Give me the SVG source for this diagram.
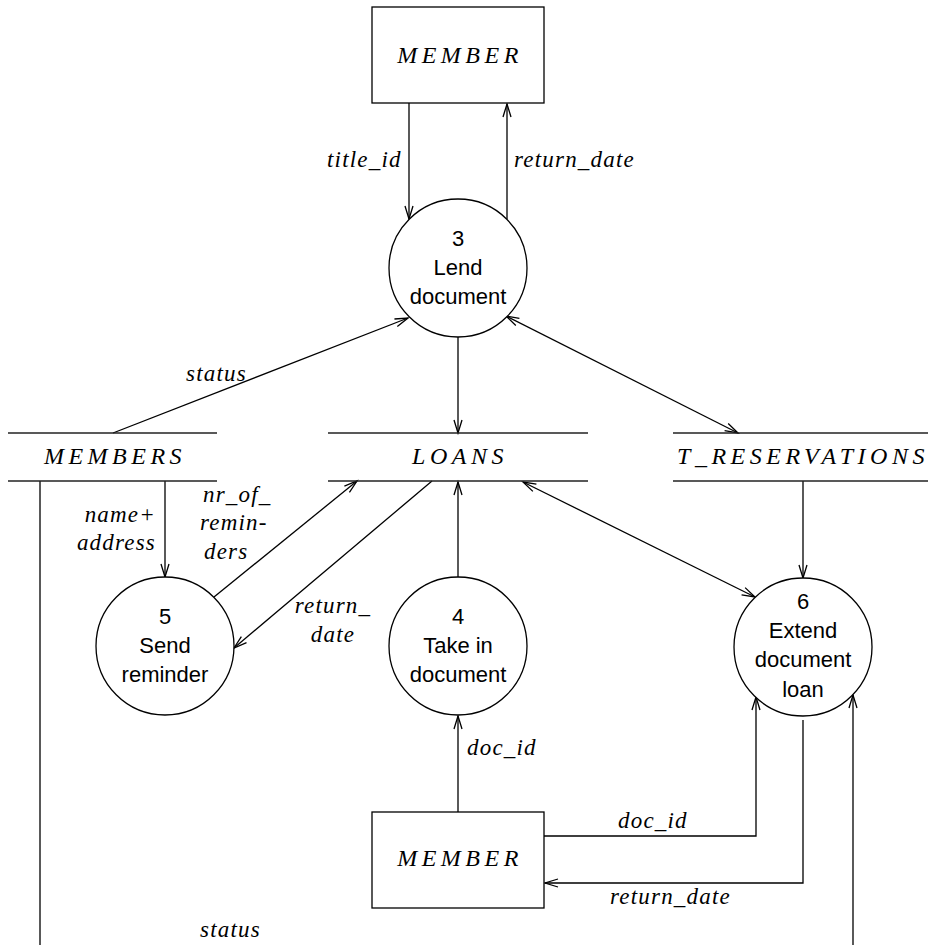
<svg xmlns="http://www.w3.org/2000/svg" width="928" height="945" viewBox="0 0 928 945">
  <style>
    .ln { stroke: #000; stroke-width: 1.3; fill: none; }
    .store { stroke: #222; stroke-width: 1.5; fill: none; }
    .box { stroke: #000; stroke-width: 1.3; fill: #fff; }
    .proc { stroke: #000; stroke-width: 1.3; fill: #fff; }
    .ptxt { font-family: "Liberation Sans", Arial, sans-serif; font-size: 22px; fill: #000; text-anchor: middle; }
    .name { font-family: "Liberation Serif", "Times New Roman", serif; font-style: italic; font-size: 24px; letter-spacing: 4.5px; fill: #000; text-anchor: middle; }
    .lbl { font-family: "Liberation Serif", "Times New Roman", serif; font-style: italic; font-size: 23px; letter-spacing: 1.2px; fill: #000; }
    .r { text-anchor: end; }
    .m { text-anchor: middle; }
  </style>
  <defs>
    <marker id="arr" markerUnits="userSpaceOnUse" orient="auto-start-reverse" refX="0" refY="0" markerWidth="30" markerHeight="30" viewBox="-15 -15 30 30" overflow="visible">
      <path d="M-13,-4 L0,0 L-13,4" fill="none" stroke="#000" stroke-width="1.3"/>
    </marker>
  </defs>

  <!-- connectors -->
  <g id="connectors">
    <line class="ln" x1="409" y1="103" x2="409" y2="219" marker-end="url(#arr)"/>
    <line class="ln" x1="507" y1="219" x2="507" y2="104" marker-end="url(#arr)"/>
    <line class="ln" x1="113" y1="433" x2="408" y2="318" marker-end="url(#arr)"/>
    <line class="ln" x1="506" y1="316" x2="738" y2="433" marker-start="url(#arr)" marker-end="url(#arr)"/>
    <line class="ln" x1="458" y1="337" x2="458" y2="433" marker-end="url(#arr)"/>
    <line class="ln" x1="165" y1="481" x2="165" y2="577" marker-end="url(#arr)"/>
    <line class="ln" x1="214" y1="597" x2="357" y2="481" marker-end="url(#arr)"/>
    <line class="ln" x1="432" y1="481" x2="234" y2="648" marker-end="url(#arr)"/>
    <line class="ln" x1="458" y1="577" x2="458" y2="482" marker-end="url(#arr)"/>
    <line class="ln" x1="523" y1="482" x2="755" y2="597" marker-start="url(#arr)" marker-end="url(#arr)"/>
    <line class="ln" x1="803" y1="481" x2="803" y2="578" marker-end="url(#arr)"/>
    <line class="ln" x1="458" y1="812" x2="458" y2="716" marker-end="url(#arr)"/>
    <polyline class="ln" points="544,836 756,836 756,697" marker-end="url(#arr)"/>
    <polyline class="ln" points="803,720 803,883 545,883" marker-end="url(#arr)"/>
    <line class="ln" x1="853" y1="945" x2="853" y2="695" marker-end="url(#arr)"/>
    <line class="store" x1="40" y1="481" x2="40" y2="945"/>

    <text class="lbl" x="327" y="167">title_id</text>
    <text class="lbl" x="514" y="167">return_date</text>
    <text class="lbl" x="186" y="381">status</text>
    <text class="lbl r" x="156" y="522">name+</text>
    <text class="lbl r" x="156" y="550">address</text>
    <text class="lbl" x="203" y="502">nr_of_</text>
    <text class="lbl" x="200" y="530">remin-</text>
    <text class="lbl" x="204" y="559">ders</text>
    <text class="lbl m" x="333" y="613">return_</text>
    <text class="lbl m" x="333" y="642">date</text>
    <text class="lbl" x="467" y="755">doc_id</text>
    <text class="lbl" x="618" y="828">doc_id</text>
    <text class="lbl" x="610" y="904">return_date</text>
    <text class="lbl" x="200" y="937">status</text>
  </g>

  <!-- external entities -->
  <g id="member-top">
    <rect class="box" x="372" y="7" width="172" height="96"/>
    <text class="name" x="460" y="63">MEMBER</text>
  </g>
  <g id="member-bottom">
    <rect class="box" x="372" y="812" width="172" height="96"/>
    <text class="name" x="460" y="866">MEMBER</text>
  </g>

  <!-- data stores -->
  <g id="store-members">
    <line class="store" x1="8" y1="433" x2="217" y2="433"/>
    <line class="store" x1="8" y1="481" x2="217" y2="481"/>
    <text class="name" x="115" y="464">MEMBERS</text>
  </g>
  <g id="store-loans">
    <line class="store" x1="328" y1="433" x2="588" y2="433"/>
    <line class="store" x1="328" y1="481" x2="588" y2="481"/>
    <text class="name" x="460" y="464">LOANS</text>
  </g>
  <g id="store-treservations">
    <line class="store" x1="673" y1="433" x2="928" y2="433"/>
    <line class="store" x1="673" y1="481" x2="928" y2="481"/>
    <text class="name" x="803" y="464">T_RESERVATIONS</text>
  </g>

  <!-- processes -->
  <g id="proc-3">
    <circle class="proc" cx="458" cy="268" r="69"/>
    <text class="ptxt" x="458" y="246">3</text>
    <text class="ptxt" x="458" y="275">Lend</text>
    <text class="ptxt" x="458" y="304">document</text>
  </g>
  <g id="proc-5">
    <circle class="proc" cx="165" cy="646" r="69"/>
    <text class="ptxt" x="165" y="624">5</text>
    <text class="ptxt" x="165" y="653">Send</text>
    <text class="ptxt" x="165" y="682">reminder</text>
  </g>
  <g id="proc-4">
    <circle class="proc" cx="458" cy="646" r="69"/>
    <text class="ptxt" x="458" y="624">4</text>
    <text class="ptxt" x="458" y="653">Take in</text>
    <text class="ptxt" x="458" y="682">document</text>
  </g>
  <g id="proc-6">
    <circle class="proc" cx="803" cy="647" r="69"/>
    <text class="ptxt" x="803" y="609">6</text>
    <text class="ptxt" x="803" y="638">Extend</text>
    <text class="ptxt" x="803" y="667">document</text>
    <text class="ptxt" x="803" y="697">loan</text>
  </g>
</svg>
